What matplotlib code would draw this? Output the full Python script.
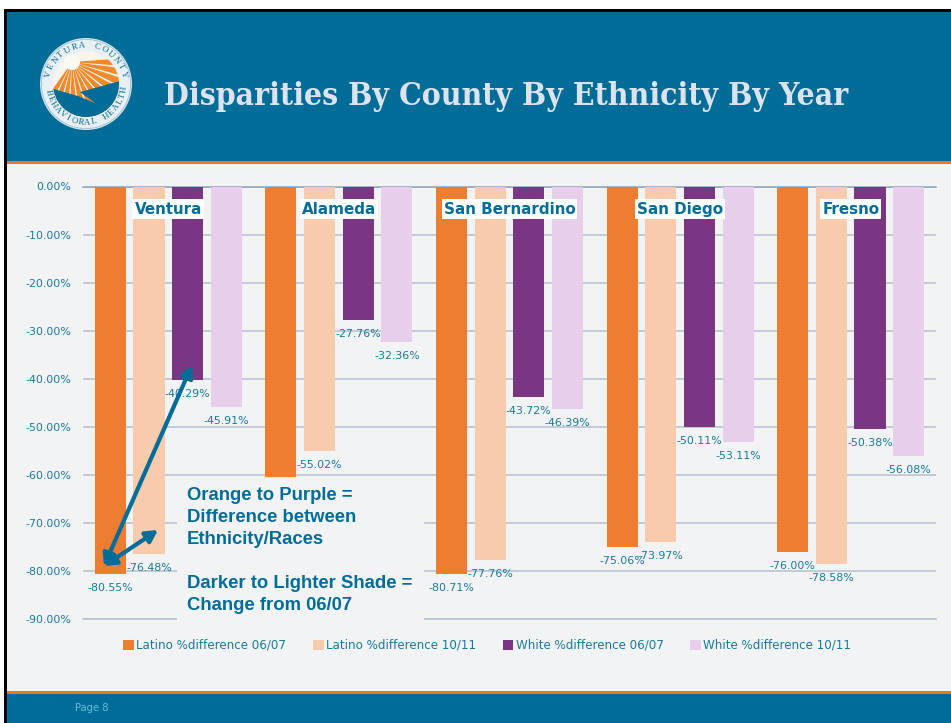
import numpy as np
import matplotlib
matplotlib.use('Agg')
import matplotlib.pyplot as plt
from matplotlib.patches import Rectangle, Circle, Wedge, Polygon

# Values
counties = ['Ventura', 'Alameda', 'San Bernardino', 'San Diego', 'Fresno']
latino_0607 = [-80.55, -60.50, -80.71, -75.06, -76.00]
latino_1011 = [-76.48, -55.02, -77.76, -73.97, -78.58]
white_0607 = [-40.29, -27.76, -43.72, -50.11, -50.38]
white_1011 = [-45.91, -32.36, -46.39, -53.11, -56.08]
series_names = ['Latino %difference 06/07', 'Latino %difference 10/11',
                'White %difference 06/07', 'White %difference 10/11']
y_ticks = [0, -10, -20, -30, -40, -50, -60, -70, -80, -90]

W, H = 951, 723
TEAL = '#006C98'
LABEL = '#1A7A9E'
ORANGE = '#ED7D31'
PEACH = '#F8CBAD'
PURPLE = '#7A3583'
LILAC = '#E7CFEC'
BG = '#F2F3F5'
FONT = ['DejaVu Sans']

fig = plt.figure(figsize=(W / 100, H / 100), dpi=100, facecolor='white')

# slide background, in pixel coordinates
bg = fig.add_axes([0, 0, 1, 1], zorder=0)
bg.set_xlim(0, W)
bg.set_ylim(H, 0)
bg.axis('off')
bg.add_patch(Rectangle((4, 9), W, H, color='black', lw=0))
bg.add_patch(Rectangle((7, 12), W, H, color=BG, lw=0))
bg.add_patch(Rectangle((7, 12), W, 149, color=TEAL, lw=0))
bg.add_patch(Rectangle((7, 161), W, 3, color='#E2762E', lw=0))
bg.add_patch(Rectangle((7, 691), W, 3, color='#E2762E', lw=0))
bg.add_patch(Rectangle((7, 694), W, 30, color=TEAL, lw=0))
bg.text(164, 96, 'Disparities By County By Ethnicity By Year', color='#DCE3EE',
        family='DejaVu Serif', stretch='condensed', weight='bold', fontsize=22.9,
        va='center', ha='left')
bg.text(75, 708, 'Page 8', color='#62BEDF', fontsize=7.2, family=FONT, va='center')

# logo
cx, cy = 86, 84
bg.add_patch(Circle((cx, cy), 46, color='#D5E3EC', lw=0))
bg.add_patch(Circle((cx, cy), 44.5, fc='#E9F0F4', ec='#9CC0D2', lw=0.6))
inner = Circle((cx, cy), 33, color='#F8F5EE', lw=0)
bg.add_patch(inner)
for a in np.arange(-4, 124, 11):
    w = Wedge((72, 62), 70, a, a + 8.5, color='#F08A2C', lw=0)
    bg.add_patch(w)
    w.set_clip_path(inner)
bg.add_patch(Circle((72, 62), 8, color='#FBF9F4', lw=0))
hill = Polygon([(50, 88), (78, 96), (95, 103), (80, 92), (120, 81), (125, 130), (45, 130)],
               color=TEAL, lw=0)
bg.add_patch(hill)
hill.set_clip_path(inner)


def ring_text(text, start, end, r, flip):
    # put each letter of a string round the logo ring
    for ch, a in zip(text, np.linspace(start, end, len(text))):
        rad = np.deg2rad(a)
        rot = a - 90 if not flip else a + 90
        bg.text(cx + r * np.cos(rad), cy - r * np.sin(rad), ch, color=TEAL, fontsize=6.4,
                family='Liberation Serif', ha='center', va='center', rotation=rot)


ring_text('VENTURA COUNTY', 165, 15, 38.5, False)
ring_text('BEHAVIORAL HEALTH', 192, 352, 38.5, True)

# chart
ax = fig.add_axes([83 / W, 1 - 619 / H, 853 / W, (619 - 186.5) / H], zorder=1)
ax.patch.set_alpha(0)
x = np.arange(len(counties))
offsets = [-0.34, -0.113, 0.113, 0.34]
all_series = [latino_0607, latino_1011, white_0607, white_1011]
colors = [ORANGE, PEACH, PURPLE, LILAC]
for i in range(4):
    ax.bar(x + offsets[i], all_series[i], width=0.182, color=colors[i],
           label=series_names[i], zorder=2)
    for xi, v in zip(x + offsets[i], all_series[i]):
        if i == 0 and v == -60.50:
            continue  # no label shows for this bar in the original
        ax.annotate('%.2f%%' % v, (xi, v), xytext=(0, -14), textcoords='offset pixels',
                    ha='center', va='center', fontsize=7.9, color=LABEL, family=FONT, zorder=4)

ax.set_xlim(-0.5, 4.5)
ax.set_ylim(-90, 0)
ax.set_yticks(y_ticks)
ax.set_yticklabels(['%.2f%%' % t for t in y_ticks], color=LABEL, fontsize=7.9, family=FONT)
ax.set_xticks([])
ax.tick_params(axis='y', length=0, pad=8.6)
ax.grid(axis='y', color='#B4C0CE', lw=1.1, zorder=1)
ax.set_axisbelow(True)
for s in ax.spines.values():
    s.set_visible(False)
ax.axhline(0, color='#8CA3BC', lw=1.1, zorder=1, clip_on=False)
ax.axhline(-90, color='#B4C0CE', lw=1.1, zorder=1, clip_on=False)

for xi, name in zip(x, counties):
    ax.text(xi, -4.7, name, ha='center', va='center', fontsize=10.9, weight='bold', color=TEAL,
            family=FONT, zorder=5,
            bbox=dict(fc='white', ec='none', boxstyle='square,pad=0.14'))

leg = ax.legend(loc='upper left', bbox_to_anchor=(40 / 853, -20 / 432.5), ncol=4, frameon=False,
                handlelength=0.9, handleheight=0.9, handletextpad=0.2, columnspacing=2.23,
                borderaxespad=0, borderpad=0, prop={'family': FONT, 'size': 8.6})
for t in leg.get_texts():
    t.set_color(LABEL)

# overlay with the note and arrows
top = fig.add_axes([0, 0, 1, 1], zorder=2)
top.set_xlim(0, W)
top.set_ylim(H, 0)
top.axis('off')
top.add_patch(Rectangle((177, 482), 247, 141, color=BG, lw=0))
note = [('Orange to Purple =', 495), ('Difference between', 518), ('Ethnicity/Races', 540),
        ('Darker to Lighter Shade =', 584), ('Change from 06/07', 606)]
for line, ypos in note:
    top.text(187, ypos, line, color=TEAL, fontsize=13.3, weight='bold',
             family='Liberation Sans', va='center')
arrow = dict(arrowstyle='<|-|>,head_length=0.7,head_width=0.38', color=TEAL, lw=3,
             shrinkA=0, shrinkB=0)
top.annotate('', xy=(192, 365), xytext=(104, 566), arrowprops=arrow)
top.annotate('', xy=(158, 530), xytext=(104, 566), arrowprops=arrow)

fig.savefig('out.png', dpi=100, facecolor='white')
